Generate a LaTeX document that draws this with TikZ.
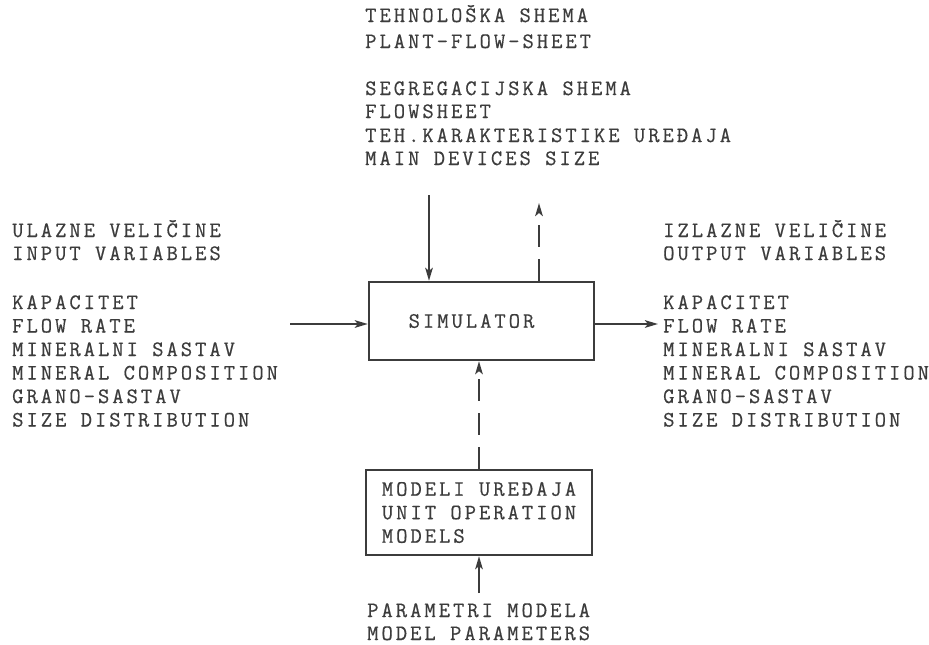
\documentclass[tikz,border=0pt]{standalone}
\usepackage{fontspec}
\usetikzlibrary{arrows.meta}
\definecolor{ink}{RGB}{60,60,60}
\newfontfamily\twfam{Latin Modern Mono}[LetterSpace=13.5,FakeBold=0.5]
\newcommand\tw{\twfam\fontsize{22}{23.5}\selectfont}
\begin{document}
\begin{tikzpicture}[x=1pt,y=-1pt,
  txt/.style={anchor=base west, inner sep=0pt, font=\tw, text=ink},
  boxnode/.style={draw=ink, line width=2.3pt, inner sep=0pt, font=\tw, text=ink},
  arr/.style={draw=ink, line width=2.3pt, -{Stealth[length=13pt,width=7.5pt,inset=3pt]}},
  dashline/.style={dash pattern=on 22pt off 12pt}]
\useasboundingbox[fill=white] (0,0) rectangle (929,645);
% top texts
\node[txt] (t1) at (365,22) {TEHNOLOŠKA SHEMA};
\node[txt] (t2) at (365,48) {PLANT-FLOW-SHEET};
\node[txt] (t3) at (365,95) {SEGREGACIJSKA SHEMA};
\node[txt] (t4) at (365,118) {FLOWSHEET};
\node[txt] (t5) at (365,142) {TEH.KARAKTERISTIKE UREĐAJA};
\node[txt] (t6) at (365,165) {MAIN DEVICES SIZE};
% left texts
\node[txt] (l1) at (12,237) {ULAZNE VELIČINE};
\node[txt] (l2) at (12,260) {INPUT VARIABLES};
\node[txt] (l3) at (12,309) {KAPACITET};
\node[txt] (l4) at (12,332.5) {FLOW RATE};
\node[txt] (l5) at (12,356) {MINERALNI SASTAV};
\node[txt] (l6) at (12,379.5) {MINERAL COMPOSITION};
\node[txt] (l7) at (12,403) {GRANO-SASTAV};
\node[txt] (l8) at (12,426.5) {SIZE DISTRIBUTION};
% right texts
\node[txt] (r1) at (663,237) {IZLAZNE VELIČINE};
\node[txt] (r2) at (663,260) {OUTPUT VARIABLES};
\node[txt] (r3) at (663,309) {KAPACITET};
\node[txt] (r4) at (663,332.5) {FLOW RATE};
\node[txt] (r5) at (663,356) {MINERALNI SASTAV};
\node[txt] (r6) at (663,379.5) {MINERAL COMPOSITION};
\node[txt] (r7) at (663,403) {GRANO-SASTAV};
\node[txt] (r8) at (663,426.5) {SIZE DISTRIBUTION};
% bottom texts
\node[txt] (p1) at (367,617) {PARAMETRI MODELA};
\node[txt] (p2) at (367,640) {MODEL PARAMETERS};
% boxes
\node[boxnode, minimum width=225pt, minimum height=78pt] (sim) at (481.5,321) {SIMULATOR\hspace*{20pt}};
\node[boxnode, minimum width=226pt, minimum height=85pt, align=left] (model) at (479,512.5)
  {MODELI UREĐAJA\\UNIT OPERATION\\MODELS};
% connectors
\coordinate (topin) at (429,195);
\coordinate (topout) at (539,203);
\coordinate (lin) at (290,324);
\coordinate (rout) at (658,324);
\coordinate (par) at (479,593);
\draw[arr] (topin) -- (topin |- sim.north);
\draw[arr, dashline] (sim.north -| topout) -- (topout);
\draw[arr] (lin) -- (lin -| sim.west);
\draw[arr] (sim.east |- rout) -- (rout);
\draw[arr, dashline] (model.north) -- (model.north |- sim.south);
\draw[arr] (par) -- (model.south);
\end{tikzpicture}
\end{document}
